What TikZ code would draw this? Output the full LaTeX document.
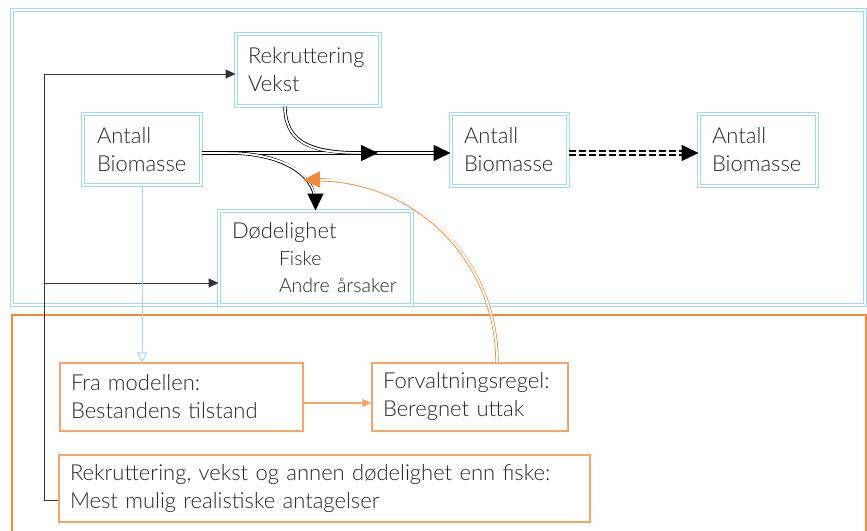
\documentclass[tikz,border=0pt]{standalone}
\usepackage{fontspec}
\setmainfont{Lato Light}
\usepackage{tikz}
\usetikzlibrary{arrows.meta}
\definecolor{skyline}{HTML}{9ED8F5}
\definecolor{frameorange}{HTML}{F08A3C}
\definecolor{boxorange}{HTML}{F5A56C}
\newcommand{\subfont}{\fontsize{19.5}{27}\selectfont}
\tikzset{>/.tip={Triangle[length=10pt,width=9pt]},
  big/.tip={Triangle[length=17pt,width=16pt]},
  bluebox/.style={draw=skyline, double=white, line width=1pt, double distance=1.8pt,
    align=left, inner ysep=0pt, text=black!85, font=\fontsize{22}{28}\selectfont},
  orangebox/.style={draw=boxorange, line width=1.2pt,
    align=left, inner ysep=0pt, text=black!85, font=\fontsize{22}{28}\selectfont},
  flowline/.style={draw=black, double=white, line width=0.9pt, double distance=1.5pt, shorten >=8pt},
  tipline/.style={draw=white, line width=1.5pt}}

\begin{document}
\begin{tikzpicture}[x=1pt,y=-1pt]
\useasboundingbox (0,0) rectangle (867,530);

% frames
\draw[skyline, double=white, line width=1pt, double distance=1.8pt] (12,10) rectangle (865,305);
\draw[frameorange, line width=2.5pt] (12,315) rectangle (866,545);

\node[bluebox, minimum width=144pt, minimum height=72pt, inner xsep=12pt, text width=120pt] (RV) at (308,70) {Rekruttering\\Vekst};
\node[bluebox, minimum width=118pt, minimum height=71pt, inner xsep=14pt, text width=90pt] (AB-1) at (142,149.5) {Antall\\Biomasse};
\node[bluebox, minimum width=117pt, minimum height=72pt, inner xsep=13pt, text width=91pt] (AB-2) at (509.5,150) {Antall\\Biomasse};
\node[bluebox, minimum width=118pt, minimum height=72pt, inner xsep=13pt, text width=92pt] (AB-3) at (758,150) {Antall\\Biomasse};
\node[bluebox, minimum width=193pt, minimum height=94pt, inner xsep=13pt, text width=167pt, font=\fontsize{22}{27}\selectfont] (D) at (315.5,258)
  {Dødelighet\\\hspace*{47pt}{\subfont Fiske}\\\hspace*{47pt}{\subfont Andre årsaker}};

\node[orangebox, minimum width=243pt, minimum height=68pt, inner xsep=11pt, text width=221pt] (FM) at (181.5,397) {Fra modellen:\\Bestandens tilstand};
\node[orangebox, minimum width=196pt, minimum height=68pt, inner xsep=11pt, text width=174pt] (FR) at (470,397) {Forvaltningsregel:\\Beregnet uttak};
\node[orangebox, minimum width=531pt, minimum height=67pt, inner xsep=11pt, text width=509pt] (RA) at (324.5,488.5)
  {Rekruttering, vekst og annen dødelighet enn fiske:\\Mest mulig realistiske antagelser};

\coordinate (flow) at (0,153);
\coordinate (bend) at (44,74);
\coordinate (split) at (228,153);
\coordinate (merge) at (378,153);
\coordinate (hit) at (303,180);
\coordinate (rv-out) at ([xshift=-23pt]RV.south);
\coordinate (fr-out) at ([xshift=27pt]FR.north);
\coordinate (d-in) at ([yshift=-25pt]D.west);
\coordinate (ra-in) at ([yshift=-11.5pt]RA.west);

% flow between the stock boxes
\draw[flowline] (AB-1.east |- flow) -- (AB-2.west |- flow);
\draw[tipline, -{big[black]}] (AB-1.east |- flow) -- (AB-2.west |- flow);
\draw[flowline, line width=2.2pt, double distance=2pt, dash pattern=on 7pt off 3pt] (AB-2.east |- flow) -- (AB-3.west |- flow);
\draw[tipline, -{big[black]}] (AB-2.east |- flow) -- (AB-3.west |- flow);
\draw[flowline] (rv-out) .. controls +(0,45) and +(-50,0) .. (merge);
\draw[tipline, -{big[black]}] (rv-out) .. controls +(0,45) and +(-50,0) .. (merge);
\draw[flowline] (split) .. controls +(55,0) and +(0,-35) .. (D.north);
\draw[tipline, -{big[black]}] (split) .. controls +(55,0) and +(0,-35) .. (D.north);
\draw[flowline, draw=frameorange] (fr-out) .. controls +(0,-105) and +(110,-3) .. (hit);
\draw[tipline, -{big[frameorange]}] (fr-out) .. controls +(0,-105) and +(110,-3) .. (hit);

% assumptions fed back
\draw[black!80, line width=1pt, ->] (ra-in) -| (bend) -- (bend -| RV.west);
\draw[black!80, line width=1pt, ->] (d-in -| bend) -- (d-in);

% management loop
\draw[skyline, line width=1pt, -{Triangle[open,length=10pt,width=10pt]}] (AB-1.south) -- (AB-1.south |- FM.north);
\draw[boxorange, line width=1.2pt, -{Triangle[length=9pt,width=8pt]}] ([yshift=-6pt]FM.east) -- ([yshift=-6pt]FR.west);
\end{tikzpicture}
\end{document}
